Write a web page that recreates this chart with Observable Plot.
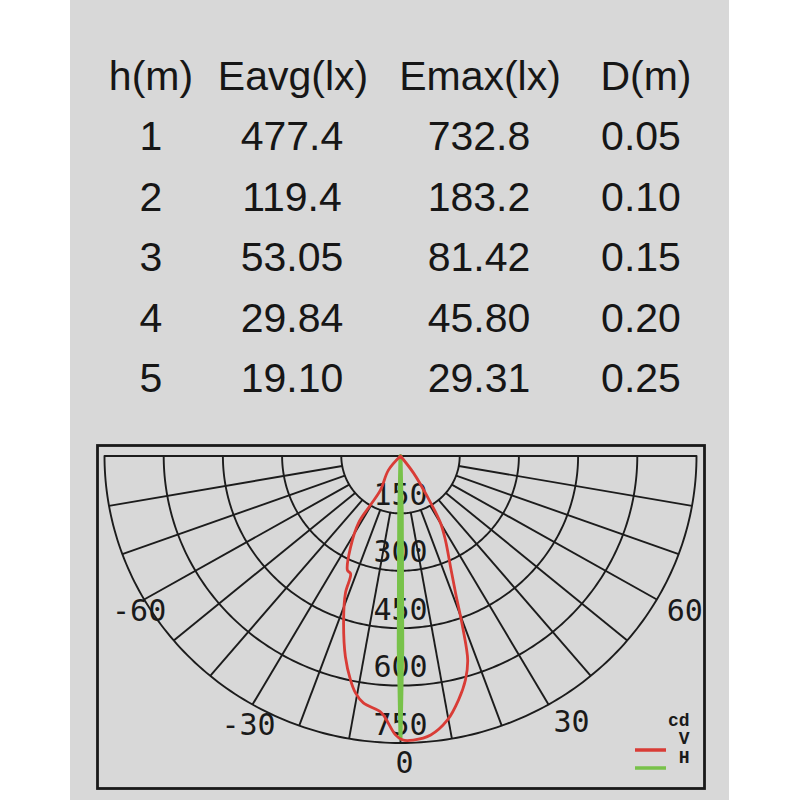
<!DOCTYPE html>
<html>
<head>
<meta charset="utf-8">
<script src="https://cdn.jsdelivr.net/npm/d3@7"></script>
<script src="https://cdn.jsdelivr.net/npm/@observablehq/plot@0.6"></script>
<style>
  html, body { margin: 0; padding: 0; background: #ffffff; width: 800px; height: 800px; overflow: hidden; }
  #card { position: absolute; left: 70px; top: 0; width: 659px; height: 800px; background: #d8d8d8; }
  #table { position: absolute; left: 0; top: 0; }
  #chart { position: absolute; left: 0; top: 440px; }
  #chart svg { background: transparent !important; overflow: visible; }
</style>
</head>
<body>
<div id="card"></div>
<svg id="table" width="800" height="440"></svg>
<div id="chart"></div>
<script>
// ---- table data ----
const headers = ["h(m)", "Eavg(lx)", "Emax(lx)", "D(m)"];
const heights = ["1", "2", "3", "4", "5"];
const eavg = ["477.4", "119.4", "53.05", "29.84", "19.10"];
const emax = ["732.8", "183.2", "81.42", "45.80", "29.31"];
const dist = ["0.05", "0.10", "0.15", "0.20", "0.25"];

// ---- polar chart data (angle in degrees from nadir, intensity in cd) ----
const rings = [150, 300, 450, 600, 750];
const spokeAngles = [-80, -70, -60, -50, -40, -30, -20, -10, 0, 10, 20, 30, 40, 50, 60, 70, 80];
const angleLabels = ["-60", "60", "-30", "30", "0"];
const angleLabelValues = [-60, 60, -30, 30, 0];
const legendLabels = ["cd", "V", "H"];

const vAngles = [0, -39.7, -29.7, -30.7, -31.3, -28.0, -24.3, -22.3, -21.3, -18.6,
  -14.9, -12.2, -10.4, -8.3, -4.3, -3.2, -1.0, 0.4, 2.5, 6.0,
  9.8, 13.0, 15.7, 17.7, 19.4, 21.3, 23.6, 27.4, 30.1, 32.6, 36.6, 0];
const vCd = [0, 48, 102, 149, 205, 269, 327, 333, 384, 452,
  543, 599, 630, 652, 671, 686, 729, 742, 743, 733,
  700, 654, 608, 560, 474, 384, 317, 247, 202, 127, 55, 0];

const hAngles = [0, -1.2, -0.5, 0, 0.5, 1.2, 0];
const hCd = [0, 150, 500, 738, 500, 150, 0];

// ---- table drawing ----
const tsvg = d3.select("#table");
const colX = [151, 292, 479, 641];
const headX = [151, 293, 480, 646];
const tFont = "'Liberation Sans', Arial, sans-serif";
headers.forEach((h, i) => {
  tsvg.append("text").attr("x", headX[i]).attr("y", 90).attr("text-anchor", "middle")
    .attr("font-family", tFont).attr("font-size", 41).attr("fill", "#161616").text(h);
});
[heights, eavg, emax, dist].forEach((col, c) => {
  col.forEach((v, r) => {
    tsvg.append("text").attr("x", colX[c]).attr("y", 150 + 60.5 * r).attr("text-anchor", "middle")
      .attr("font-family", tFont).attr("font-size", 41).attr("fill", "#161616").text(v);
  });
});

// ---- polar helpers ----
const rad = a => a * Math.PI / 180;
const px = (a, r) => r * Math.sin(rad(a));
const py = (a, r) => r * Math.cos(rad(a));

const arcPts = rings.flatMap(r => d3.range(-90, 90.01, 1).map(a => ({ring: r, x: px(a, r), y: py(a, r)})));
const spokes = spokeAngles.map(a => ({x1: px(a, rings[0]), y1: py(a, rings[0]), x2: px(a, 750), y2: py(a, 750)}));
spokes.push({x1: -750, y1: 0, x2: 750, y2: 0});

const vPts = vAngles.map((a, i) => ({x: px(a, vCd[i]), y: py(a, vCd[i])}));
const hPts = hAngles.map((a, i) => ({x: px(a, hCd[i]), y: py(a, hCd[i])}));

const mono = "'DejaVu Sans Mono', monospace";
const courier = "'Liberation Mono', 'Courier New', monospace";
const labelOffsets = {"-60": [-5, 12], "60": [28, 12], "-30": [-4, 21], "30": [23, 18], "0": [4, 20]};
const legendDy = [-63, -44.5, -26];

const gridColor = "#1c1c1c";
const plot = Plot.plot({
  width: 800,
  height: 360,
  marginLeft: 97,
  marginRight: 96,
  marginTop: 5,
  marginBottom: 12,
  x: {domain: [-750, 750], range: [104, 696], axis: null},
  y: {domain: [0, 750], range: [15.5, 302.5], axis: null},
  style: {background: "transparent", overflow: "visible"},
  marks: [
    Plot.frame({stroke: "#1a1a1a", strokeWidth: 2.8}),
    Plot.line(arcPts, {x: "x", y: "y", z: "ring", stroke: gridColor, strokeWidth: 1.9}),
    Plot.link(spokes, {x1: "x1", y1: "y1", x2: "x2", y2: "y2", stroke: gridColor, strokeWidth: 1.9}),
    Plot.text(rings, {x: 0, y: d => d, text: d => String(d), dy: -18, fontSize: 30, fontFamily: mono, fill: "#1a1a1a"}),
    ...angleLabels.map((lab, i) => Plot.text([lab], {
      x: px(angleLabelValues[i], 750), y: py(angleLabelValues[i], 750), text: d => d,
      dx: labelOffsets[lab][0], dy: labelOffsets[lab][1],
      fontSize: 30, fontFamily: mono, fill: "#1a1a1a"
    })),
    Plot.line(hPts, {x: "x", y: "y", stroke: "#78c24a", strokeWidth: 4, curve: "linear"}),
    Plot.line(vPts, {x: "x", y: "y", stroke: "#d93c36", strokeWidth: 2.8, curve: "catmull-rom"}),
    ...legendLabels.map((lab, i) => Plot.text([lab], {
      frameAnchor: "bottom-right", text: d => d, dx: -15, dy: legendDy[i], textAnchor: "end",
      fontSize: 18, fontWeight: "bold", fontFamily: courier, fill: "#1a1a1a"
    }))
  ]
});
document.getElementById("chart").appendChild(plot);

// legend swatches
const svg = d3.select(plot);
svg.append("line").attr("x1", 635).attr("x2", 666).attr("y1", 310).attr("y2", 310)
  .attr("stroke", "#d93c36").attr("stroke-width", 3.5);
svg.append("line").attr("x1", 635).attr("x2", 666).attr("y1", 328).attr("y2", 328)
  .attr("stroke", "#78c24a").attr("stroke-width", 3.5);
</script>
</body>
</html>
